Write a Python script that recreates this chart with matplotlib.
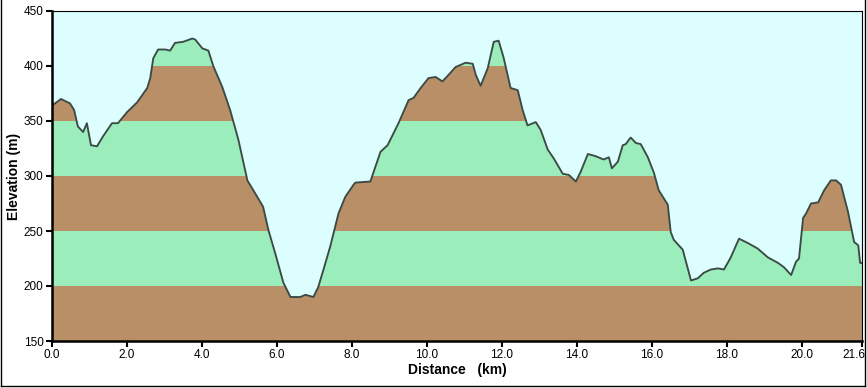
import matplotlib
matplotlib.use('Agg')
import matplotlib.pyplot as plt
from matplotlib.lines import Line2D
from matplotlib.transforms import ScaledTranslation
import numpy as np

# Elevation profile
distance_km = [
    0.00, 0.24, 0.48, 0.59, 0.69, 0.83, 0.93, 1.04, 1.20, 1.36, 1.60, 1.76,
    2.00, 2.27, 2.54, 2.62, 2.70, 2.83, 3.02, 3.15, 3.28, 3.50, 3.74, 3.82,
    4.01, 4.17, 4.30, 4.54, 4.75, 4.97, 5.21, 5.37, 5.63, 5.77, 5.95, 6.17,
    6.36, 6.62, 6.76, 6.97, 7.10, 7.24, 7.42, 7.64, 7.82, 8.04, 8.09, 8.49,
    8.57, 8.76, 8.95, 9.24, 9.51, 9.64, 9.83, 10.04, 10.23, 10.41, 10.55,
    10.76, 11.03, 11.22, 11.30, 11.43, 11.62, 11.78, 11.91, 12.04, 12.23,
    12.42, 12.55, 12.68, 12.90, 13.03, 13.22, 13.38, 13.62, 13.78, 13.97,
    14.10, 14.29, 14.50, 14.71, 14.85, 14.93, 15.09, 15.22, 15.30, 15.43,
    15.57, 15.70, 15.89, 16.05, 16.18, 16.42, 16.50, 16.58, 16.82, 17.04,
    17.22, 17.38, 17.57, 17.76, 17.92, 18.10, 18.32, 18.56, 18.82, 19.09,
    19.36, 19.52, 19.71, 19.84, 19.92, 20.03, 20.11, 20.24, 20.43, 20.59,
    20.77, 20.91, 21.04, 21.23, 21.39, 21.50, 21.55, 21.60,
]
elevation_m = [
    364, 370, 366, 360, 345, 340, 348, 328, 327, 336, 348, 348,
    358, 367, 380, 389, 407, 415, 415, 414, 421, 422, 425, 424,
    416, 414, 400, 381, 360, 333, 296, 287, 272, 251, 230, 203,
    190, 190, 192, 190, 199, 215, 236, 266, 281, 292, 294, 295,
    303, 322, 328, 348, 369, 371, 380, 389, 390, 386, 391,
    399, 403, 402, 392, 382, 398, 422, 423, 408, 380,
    378, 360, 346, 349, 342, 324, 316, 302, 301, 295,
    304, 320, 318, 315, 317, 307, 313, 328, 329, 335,
    330, 329, 317, 303, 287, 274, 249, 242, 233, 205,
    207, 212, 215, 216, 215, 226, 243, 239, 234, 226,
    221, 217, 210, 222, 225, 262, 266, 275, 276, 287,
    296, 296, 292, 267, 240, 237, 221, 221,
]

x_ticks = [0, 2, 4, 6, 8, 10, 12, 14, 16, 18, 20, 21.6]
x_tick_labels = ['0.0', '2.0', '4.0', '6.0', '8.0', '10.0', '12.0', '14.0',
                 '16.0', '18.0', '20.0', '21.6']
y_ticks = [150, 200, 250, 300, 350, 400, 450]
band_edges = [150, 200, 250, 300, 350, 400, 450]

SKY = '#dcfefe'
BROWN = '#b88f66'
GREEN = '#9beebb'
LINE = '#3c4a46'

plt.rcParams['font.family'] = ['Liberation Sans', 'DejaVu Sans']

fig = plt.figure(figsize=(8.67, 3.88), dpi=100)
ax = fig.add_axes([52 / 867, 47 / 388, 810 / 867, 330 / 388])
ax.set_facecolor(SKY)

x = np.array(distance_km)
y = np.array(elevation_m)

# terrain polygon, used as clip for the coloured bands
terrain = ax.fill_between(x, 150, y, color='none', linewidth=0)
for i in range(len(band_edges) - 1):
    col = BROWN if i % 2 == 0 else GREEN
    band = ax.axhspan(band_edges[i], band_edges[i + 1], color=col, linewidth=0)
    band.set_clip_path(terrain.get_paths()[0], ax.transData)

ax.plot(x, y, color=LINE, linewidth=1.35, solid_joinstyle='round')

ax.set_xlim(0, 21.6)
ax.set_ylim(150, 450)
ax.set_xticks(x_ticks)
ax.set_xticklabels(x_tick_labels)
ax.set_yticks(y_ticks)
ax.tick_params(direction='out', length=4, width=1.5, labelsize=8.5, pad=2)

# last distance label sits flush with the right edge
last = ax.get_xticklabels()[-1]
last.set_horizontalalignment('right')
last.set_transform(last.get_transform() + ScaledTranslation(3 / 100, 0, fig.dpi_scale_trans))

for side in ['left', 'bottom']:
    ax.spines[side].set_linewidth(1.8)
for side in ['top', 'right']:
    ax.spines[side].set_linewidth(0.8)

ax.set_xlabel('Distance   (km)', fontsize=10, fontweight='bold', labelpad=1)
ax.set_ylabel('Elevation (m)', fontsize=10, fontweight='bold', labelpad=2)

# outer frame (left, bottom, right only)
fig.add_artist(Line2D([0.6 / 867, 0.6 / 867], [2 / 388, 1], color='black', linewidth=1))
fig.add_artist(Line2D([0.6 / 867, 864.5 / 867], [2 / 388, 2 / 388], color='black', linewidth=1))
fig.add_artist(Line2D([864.5 / 867, 864.5 / 867], [2 / 388, 1], color='black', linewidth=1))

fig.savefig('out.png', dpi=100)
